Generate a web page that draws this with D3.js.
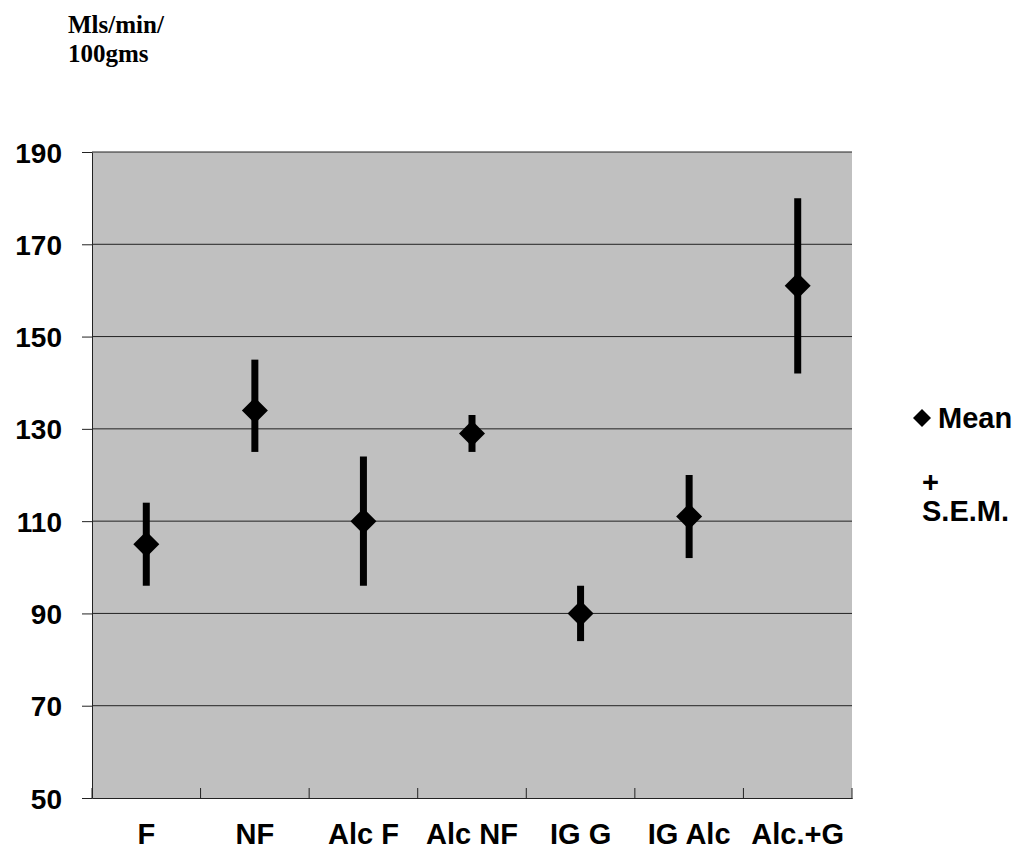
<!DOCTYPE html>
<html>
<head>
<meta charset="utf-8">
<script src="https://cdn.jsdelivr.net/npm/d3@7"></script>
<style>
  body { margin: 0; background: #fff; }
  svg text { font-family: "Liberation Sans", Arial, sans-serif; font-weight: bold; fill: #000; }
</style>
</head>
<body>
<script>
(function () {
  "use strict";

  var groups = ['F', 'NF', 'Alc F', 'Alc NF', 'IG G', 'IG Alc', 'Alc.+G'];
  var means = [105, 134, 110, 129, 90, 111, 161];
  var lows = [96, 125, 96, 125, 84, 102, 142];
  var highs = [114, 145, 124, 133, 96, 120, 180];
  var yTicks = [50, 70, 90, 110, 130, 150, 170, 190];

  var margin = {top: 152, right: 175, bottom: 54, left: 92},
      outerWidth = 1027,
      outerHeight = 852,
      width = outerWidth - margin.left - margin.right,
      height = outerHeight - margin.top - margin.bottom;

  var data = groups.map(function (g, i) {
    return {name: g, mean: means[i], low: lows[i], high: highs[i]};
  });

  var x = d3.scaleBand().domain(groups).range([0, width]);
  var y = d3.scaleLinear().domain([50, 190]).range([height, 0]);

  var svg = d3.select('body').append('svg')
      .attr('width', outerWidth)
      .attr('height', outerHeight);

  // axis title, two lines
  var title = svg.append('text')
      .style('font-family', '"Liberation Serif", "Times New Roman", serif')
      .style('font-size', '25px');
  title.append('tspan').attr('x', 68).attr('y', 33).text('Mls/min/');
  title.append('tspan').attr('x', 68).attr('y', 62).text('100gms');

  var g = svg.append('g')
      .attr('transform', 'translate(' + margin.left + ',' + margin.top + ')');

  g.append('rect')
      .attr('width', width)
      .attr('height', height)
      .attr('fill', '#c0c0c0');

  g.selectAll('.grid')
      .data(yTicks.slice(1))
      .enter()
    .append('line')
      .attr('class', 'grid')
      .attr('x1', 0)
      .attr('x2', width)
      .attr('y1', function (d) { return y(d); })
      .attr('y2', function (d) { return y(d); })
      .attr('stroke', '#222')
      .attr('stroke-width', 1);

  var yAxis = g.append('g')
      .call(d3.axisLeft(y).tickValues(yTicks).tickSize(10).tickSizeOuter(0).tickPadding(20));
  yAxis.select('.domain').attr('stroke', '#222');
  yAxis.selectAll('.tick line').attr('stroke', '#222');
  yAxis.selectAll('text').style('font-size', '28px').attr('dy', '0.36em');

  var xAxis = g.append('g')
      .attr('transform', 'translate(0,' + height + ')')
      .call(d3.axisBottom(x).tickSize(0).tickSizeOuter(0).tickPadding(0));
  xAxis.select('.domain').attr('stroke', '#222');
  xAxis.selectAll('text').style('font-size', '29px').attr('y', 46).attr('dy', 0);

  // category separators on the x axis
  g.selectAll('.sep')
      .data(groups.concat(['end']))
      .enter()
    .append('line')
      .attr('class', 'sep')
      .attr('x1', function (d, i) { return i * x.step(); })
      .attr('x2', function (d, i) { return i * x.step(); })
      .attr('y1', height - 10)
      .attr('y2', height + 1)
      .attr('stroke', '#222');

  var cx = function (d) { return x(d.name) + x.bandwidth() / 2; };

  g.selectAll('.sem')
      .data(data)
      .enter()
    .append('line')
      .attr('class', 'sem')
      .attr('x1', cx)
      .attr('x2', cx)
      .attr('y1', function (d) { return y(d.low); })
      .attr('y2', function (d) { return y(d.high); })
      .attr('stroke', '#000')
      .attr('stroke-width', 7);

  var diamond = 'M0,-13L13,0L0,13L-13,0Z';
  g.selectAll('.mean')
      .data(data)
      .enter()
    .append('path')
      .attr('class', 'mean')
      .attr('d', diamond)
      .attr('transform', function (d) { return 'translate(' + cx(d) + ',' + y(d.mean) + ')'; })
      .attr('fill', '#000');

  // legend
  var legend = svg.append('g');
  legend.append('path')
      .attr('d', 'M0,-9L9,0L0,9L-9,0Z')
      .attr('transform', 'translate(922,418)')
      .attr('fill', '#000');
  legend.append('text').attr('x', 938).attr('y', 428).style('font-size', '29px').text('Mean');
  legend.append('text').attr('x', 922).attr('y', 492).style('font-size', '29px').text('+');
  legend.append('text').attr('x', 922).attr('y', 521).style('font-size', '29px').text('S.E.M.');
}());
</script>
</body>
</html>
